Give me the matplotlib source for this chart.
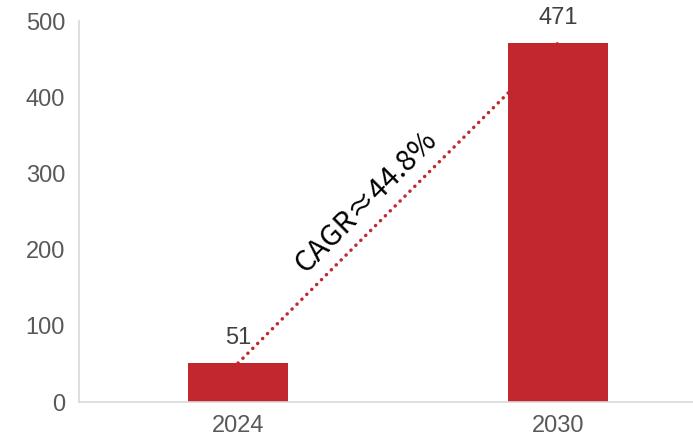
import matplotlib.pyplot as plt

years = ["2024", "2030"]
values = [51, 471]
cagr_label = "CAGR≈44.8%"

plt.rcParams['font.family'] = ['Liberation Sans', 'DejaVu Sans']

fig = plt.figure(figsize=(6.93, 4.44), dpi=100)
ax = fig.add_axes([79 / 693, 42 / 444, 1 - 79 / 693, 381 / 444])

bar_color = '#C1272D'
x = list(range(len(years)))
ax.bar(x, values, width=0.31, color=bar_color, zorder=2)

# dotted growth line between bar tops
ax.plot(x, values, linestyle=(0, (0.05, 1.95)), color=bar_color, linewidth=2.5,
        dash_capstyle='round', zorder=3)

for xi, v in zip(x, values):
    ax.text(xi, v + 18, f"{v}", ha='center', va='bottom', fontsize=17, color='#404040')

ax.text(0.4, 262, cagr_label, rotation=45, rotation_mode='anchor',
        ha='center', va='center', fontsize=21, color='black',
        family=['Noto Sans CJK SC', 'DejaVu Sans'])

ax.set_xlim(-0.497, 1.422)
ax.set_ylim(0, 500)
ax.set_yticks([0, 100, 200, 300, 400, 500])
ax.set_xticks(x)
ax.set_xticklabels(years)
ax.tick_params(axis='both', length=0, labelsize=17, labelcolor='#595959')
ax.tick_params(axis='x', pad=9)
ax.tick_params(axis='y', pad=10)

for side in ['top', 'right']:
    ax.spines[side].set_visible(False)
for side in ['left', 'bottom']:
    ax.spines[side].set_color('#D9D9D9')
    ax.spines[side].set_linewidth(1.2)

fig.savefig("out.png", dpi=100)
